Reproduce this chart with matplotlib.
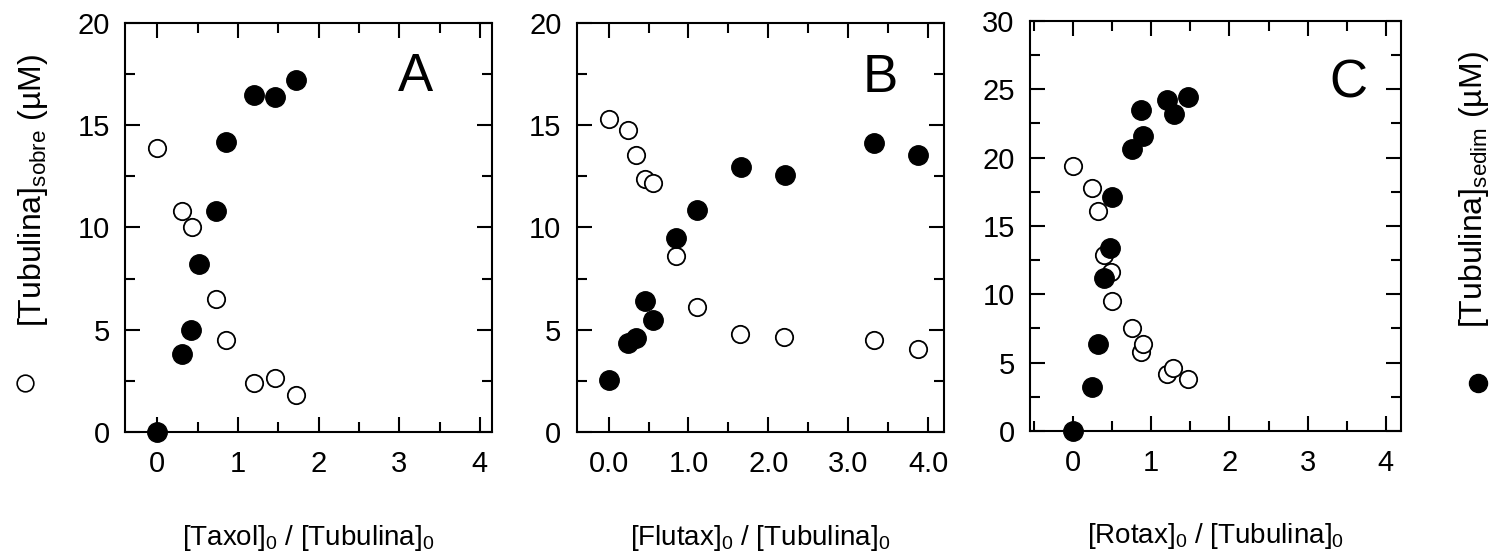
import matplotlib
matplotlib.use('Agg')
import matplotlib.pyplot as plt
from matplotlib.lines import Line2D
from matplotlib.ticker import MultipleLocator, FormatStrFormatter

plt.rcParams['font.family'] = ['Liberation Sans', 'DejaVu Sans']
plt.rcParams['mathtext.fontset'] = 'custom'
plt.rcParams['mathtext.rm'] = 'Liberation Sans'
plt.rcParams['mathtext.it'] = 'Liberation Sans'

# panel A: taxol
taxol_open_x = [0, 0.30, 0.43, 0.73, 0.85, 1.20, 1.46, 1.72]
taxol_open_y = [13.9, 10.8, 10.0, 6.5, 4.5, 2.4, 2.65, 1.8]
taxol_fill_x = [0, 0.30, 0.42, 0.52, 0.73, 0.85, 1.20, 1.46, 1.72]
taxol_fill_y = [0, 3.8, 5.0, 8.2, 10.8, 14.2, 16.5, 16.4, 17.2]

# panel B: flutax
flutax_open_x = [0, 0.24, 0.34, 0.45, 0.56, 0.84, 1.11, 1.65, 2.20, 3.32, 3.87]
flutax_open_y = [15.3, 14.75, 13.55, 12.35, 12.2, 8.6, 6.1, 4.8, 4.65, 4.5, 4.05]
flutax_fill_x = [0, 0.24, 0.34, 0.45, 0.56, 0.84, 1.11, 1.66, 2.21, 3.32, 3.88]
flutax_fill_y = [2.55, 4.35, 4.6, 6.4, 5.5, 9.5, 10.85, 12.95, 12.55, 14.15, 13.55]

# panel C: rotax
rotax_open_x = [0, 0.24, 0.32, 0.39, 0.48, 0.50, 0.75, 0.87, 0.89, 1.20, 1.28, 1.47]
rotax_open_y = [19.4, 17.75, 16.1, 12.9, 11.6, 9.5, 7.5, 5.8, 6.4, 4.15, 4.6, 3.8]
rotax_fill_x = [0, 0.24, 0.32, 0.39, 0.47, 0.50, 0.75, 0.89, 0.87, 1.20, 1.29, 1.47]
rotax_fill_y = [0, 3.2, 6.4, 11.2, 13.4, 17.1, 20.6, 21.6, 23.5, 24.2, 23.2, 24.4]

xlabels = ['[Taxol]$_0$ / [Tubulina]$_0$',
           '[Flutax]$_0$ / [Tubulina]$_0$',
           '[Rotax]$_0$ / [Tubulina]$_0$']
letters = ['A', 'B', 'C']

fig = plt.figure(figsize=(14.96, 5.58), dpi=100)
boxes = [[0.0836, 0.2258, 0.2453, 0.733],
         [0.3855, 0.2258, 0.2455, 0.733],
         [0.6885, 0.2276, 0.2478, 0.735]]
xlims = [(-0.4, 4.15), (-0.4, 4.2), (-0.55, 4.19)]
ylims = [(0, 20), (0, 20), (0, 30)]
letter_pos = [(0.79, 0.868), (0.826, 0.866), (0.858, 0.848)]

data = [(taxol_open_x, taxol_open_y, taxol_fill_x, taxol_fill_y),
        (flutax_open_x, flutax_open_y, flutax_fill_x, flutax_fill_y),
        (rotax_open_x, rotax_open_y, rotax_fill_x, rotax_fill_y)]

for i, (ox, oy, fx, fy) in enumerate(data):
    ax = fig.add_axes(boxes[i])
    ax.plot(ox, oy, 'o', ms=12.5, mfc='white', mec='black', mew=1.3, clip_on=False, zorder=3)
    ax.plot(fx, fy, 'o', ms=14, mfc='black', mec='black', clip_on=False, zorder=4)
    ax.set_xlim(*xlims[i])
    ax.set_ylim(*ylims[i])
    ax.xaxis.set_major_locator(MultipleLocator(1))
    ax.xaxis.set_minor_locator(MultipleLocator(0.5))
    ax.yaxis.set_major_locator(MultipleLocator(5))
    ax.yaxis.set_minor_locator(MultipleLocator(2.5))
    if i == 1:
        ax.xaxis.set_major_formatter(FormatStrFormatter('%.1f'))
    ax.tick_params(which='both', direction='in', top=True, right=True, width=1.5, labelsize=21)
    ax.tick_params(which='major', length=11)
    ax.tick_params(which='minor', length=7)
    ax.tick_params(axis='x', pad=13)
    ax.tick_params(axis='y', pad=11)
    for s in ax.spines.values():
        s.set_linewidth(1.5)
    ax.set_xlabel(xlabels[i], fontsize=20, labelpad=32)
    ax.text(letter_pos[i][0], letter_pos[i][1], letters[i], transform=ax.transAxes,
            fontsize=38, ha='center', va='center')

# y labels with their symbols
fig.text(33 / 1496, 1 - 190 / 558, '[Tubulina]$_{\\rm sobre}$ (µM)', rotation=90,
         ha='center', va='center', fontsize=23)
fig.add_artist(Line2D([25 / 1496], [1 - 383 / 558], marker='o', ms=12, mfc='white',
                      mec='black', mew=1.2, transform=fig.transFigure))
fig.text(1474 / 1496, 1 - 190 / 558, '[Tubulina]$_{\\rm sedim}$ (µM)', rotation=90,
         ha='center', va='center', fontsize=23)
fig.add_artist(Line2D([1478 / 1496], [1 - 383 / 558], marker='o', ms=13, mfc='black',
                      mec='black', transform=fig.transFigure))

fig.savefig('out.png', dpi=100)
